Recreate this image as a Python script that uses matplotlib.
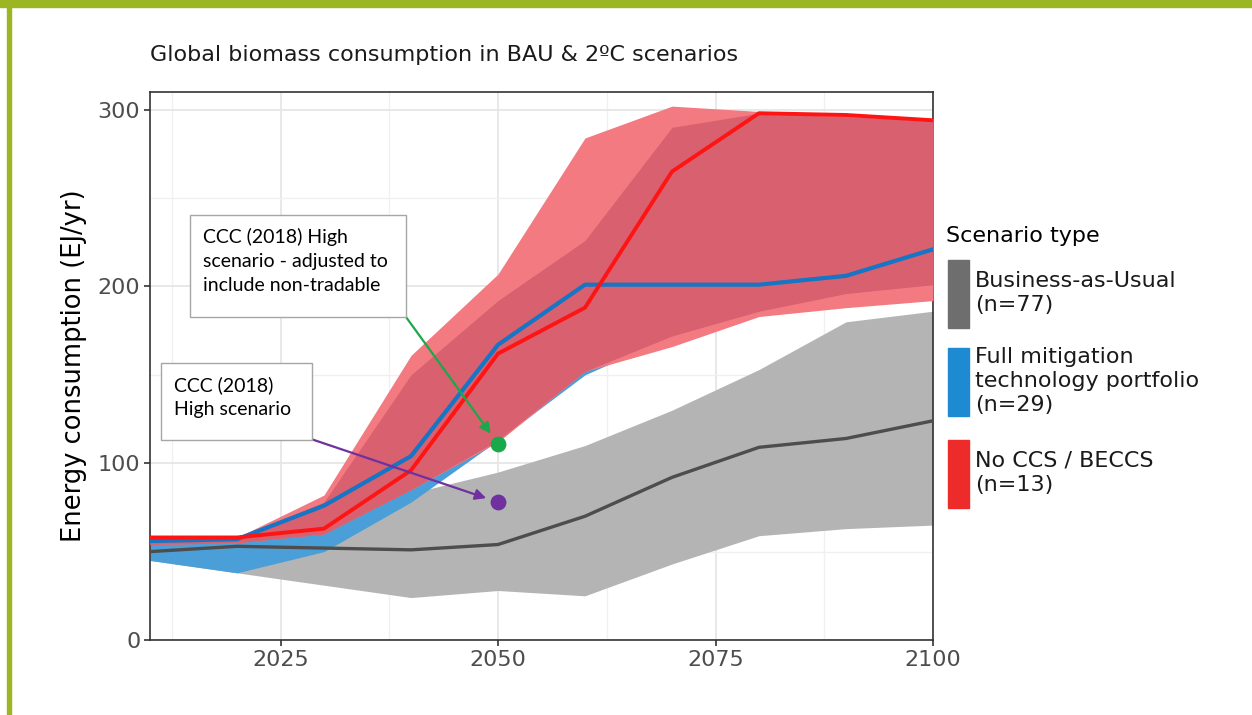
import numpy as np
import matplotlib
matplotlib.use("Agg")
import matplotlib.pyplot as plt
from matplotlib.patches import Rectangle

# ---- data (EJ/yr) ----
years = [2010, 2020, 2030, 2040, 2050, 2060, 2070, 2080, 2090, 2100]

bau_lo  = [45, 38, 31, 24, 28, 25, 43, 59, 63, 65]
bau_hi  = [53, 56, 62, 83, 95, 110, 130, 153, 180, 186]
bau_med = [50, 53, 52, 51, 54, 70, 92, 109, 114, 124]

full_lo  = [45, 38, 50, 78, 113, 150, 172, 186, 196, 201]
full_hi  = [57, 58, 78, 150, 192, 226, 290, 298, 296, 294]
full_med = [56, 57, 76, 104, 167, 201, 201, 201, 206, 221]

noccs_lo  = [54, 55, 60, 85, 112, 152, 166, 183, 188, 192]
noccs_hi  = [58, 58, 82, 161, 207, 284, 302, 299, 297, 295]
noccs_med = [58, 58, 63, 96, 162, 188, 265, 298, 297, 294]

ccc_year = 2050
ccc_adjusted = 111
ccc_high = 78

legend_labels = ["Business-as-Usual\n(n=77)",
                 "Full mitigation\ntechnology portfolio\n(n=29)",
                 "No CCS / BECCS\n(n=13)"]
legend_colors = ["#6e6e6e", "#1e8ad2", "#ee2b2b"]

W, H = 1252, 715
fig = plt.figure(figsize=(W / 100, H / 100), dpi=100)

def px(x, y):
    # pixel position from the top-left -> figure fraction
    return x / W, 1 - y / H

# olive border, top and left
fig.patches.append(Rectangle((0, 1 - 7 / H), 1, 7 / H, transform=fig.transFigure,
                             color="#9cb623", zorder=0))
fig.patches.append(Rectangle((7 / W, 0), 3.5 / W, 1, transform=fig.transFigure,
                             color="#9cb623", zorder=0))

ax = fig.add_axes([150 / W, 1 - 640 / H, (933 - 150) / W, (640 - 92) / H])
ax.set_xlim(2010, 2100)
ax.set_ylim(0, 310)

# grid (ggplot style: major + minor)
ax.set_xticks([2025, 2050, 2075, 2100])
ax.set_xticks([2012.5, 2037.5, 2062.5, 2087.5], minor=True)
ax.set_yticks([0, 100, 200, 300])
ax.set_yticks([50, 150, 250], minor=True)
ax.grid(which="major", color="#e6e6e6", lw=1.3, zorder=0)
ax.grid(which="minor", color="#f0f0f0", lw=1.0, zorder=0)
ax.set_axisbelow(True)
ax.tick_params(which="minor", length=0)
ax.tick_params(which="major", length=4, width=1.2, color="#333333",
               labelsize=16, labelcolor="#4d4d4d", pad=3)
for s in ax.spines.values():
    s.set_color("#333333"); s.set_linewidth(1.2)

# bands: grey, blue, red, then the blue/red overlap in a darker rose
ax.fill_between(years, bau_lo, bau_hi, color="#b4b4b4", lw=0, zorder=1)
ax.fill_between(years, full_lo, full_hi, color="#4a9fd8", lw=0, zorder=2)
ax.fill_between(years, noccs_lo, noccs_hi, color="#f27a80", lw=0, zorder=3)
ov_lo = np.maximum(full_lo, noccs_lo)
ov_hi = np.minimum(full_hi, noccs_hi)
ax.fill_between(years, ov_lo, ov_hi, where=ov_hi > ov_lo, interpolate=True,
                color="#d8606f", lw=0, zorder=3.5)

# medians
ax.plot(years, bau_med, color="#4d4d4d", lw=2.4, zorder=4)
ax.plot(years, full_med, color="#1675c4", lw=3, zorder=5)
ax.plot(years, noccs_med, color="#ff1414", lw=2.8, zorder=6)

# CCC points
ax.scatter([ccc_year], [ccc_adjusted], s=130, color="#1aa94a", zorder=8, lw=0)
ax.scatter([ccc_year], [ccc_high], s=130, color="#7030a0", zorder=8, lw=0)

ax.set_ylabel("Energy consumption (EJ/yr)", fontsize=18.5, color="black", labelpad=8)
fig.text(*px(150, 55), "Global biomass consumption in BAU & 2\u00baC scenarios",
         fontsize=16, color="#1a1a1a", va="center", ha="left")

# annotation boxes
def note_box(x0, y0, x1, y1, text):
    fx0, fy1 = px(x0, y1)
    fig.patches.append(Rectangle((fx0, fy1), (x1 - x0) / W, (y1 - y0) / H,
                                 transform=fig.transFigure, fc="white",
                                 ec="#a6a6a6", lw=1, zorder=10))
    fig.text(*px(x0 + 13, y0 + 13), text, fontsize=14, family="Lato",
             va="top", ha="left", linespacing=1.5, zorder=11)

note_box(190, 215, 406, 317, "CCC (2018) High\nscenario - adjusted to\ninclude non-tradable")
note_box(161, 363, 312, 440, "CCC (2018)\nHigh scenario")

ax.annotate("", xy=(ccc_year, ccc_adjusted), xytext=(406, H - 317),
            textcoords="figure pixels",
            arrowprops=dict(arrowstyle="-|>", color="#1aa94a", lw=1.6,
                            mutation_scale=16, shrinkA=0, shrinkB=9), zorder=9)
ax.annotate("", xy=(ccc_year, ccc_high), xytext=(311, H - 439),
            textcoords="figure pixels",
            arrowprops=dict(arrowstyle="-|>", color="#7030a0", lw=1.6,
                            mutation_scale=16, shrinkA=0, shrinkB=9), zorder=9)

# legend, drawn by hand
fig.text(*px(946, 236), "Scenario type", fontsize=16, va="center", ha="left")
key_tops = [260, 348, 440]
for top, lab, col in zip(key_tops, legend_labels, legend_colors):
    fx, fy = px(948, top + 68)
    fig.patches.append(Rectangle((fx, fy), 21 / W, 68 / H, transform=fig.transFigure,
                                 color=col, zorder=2))
    fig.text(*px(975, top + 33), lab, fontsize=16, va="center", ha="left",
             linespacing=1.25, color="#1a1a1a")

fig.savefig("out.png", dpi=100)
